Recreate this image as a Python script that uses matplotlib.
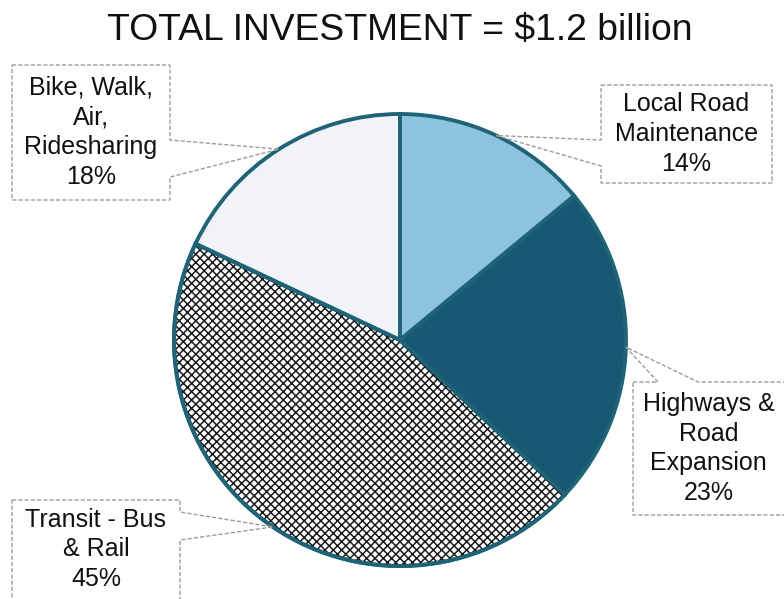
import numpy as np
import matplotlib
matplotlib.use("Agg")
import matplotlib.pyplot as plt
from matplotlib.patches import Polygon, Wedge

plt.rcParams["font.family"] = ["Liberation Sans", "DejaVu Sans"]

# ─── data ────────────────────────────────────────────────────────────────
categories = ["Local Road\nMaintenance", "Highways &\nRoad\nExpansion",
              "Transit - Bus\n& Rail", "Bike, Walk,\nAir,\nRidesharing"]
shares = [14, 23, 45, 18]
colors = ["#8ec3de", "#195873", "#ffffff", "#f1f3f7"]
title = "TOTAL INVESTMENT = $1.2 billion"

# callout boxes in pixel space (left, top, right, bottom) + side the pointer leaves from
boxes = [
    (601, 85, 772, 183, "left", (140, 166)),
    (633, 382, 790, 515, "top", (658, 698)),
    (12, 500, 180, 610, "right", (512, 540)),
    (12, 65, 170, 200, "right", (140, 177)),
]

W, H = 784, 599
CX, CY, R = 400, H - 340, 226
EDGE = "#1d6478"

fig = plt.figure(figsize=(W / 100, H / 100), dpi=100)
ax = fig.add_axes([0, 0, 1, 1])

wedges, _ = ax.pie(shares, colors=colors, startangle=90, counterclock=False,
                   center=(CX, CY), radius=R, frame=True,
                   wedgeprops=dict(edgecolor=EDGE, linewidth=2.8))
ax.set_xlim(0, W)
ax.set_ylim(0, H)
ax.set_aspect("equal")
ax.axis("off")

# hatch overlay for the transit slice
w = wedges[2]
plt.rcParams["hatch.linewidth"] = 1.1
ax.add_patch(Wedge((CX, CY), R, w.theta1, w.theta2, facecolor="none",
                   edgecolor="#1a1a1a", linewidth=0, hatch="xxxx", zorder=1.05))
ax.add_patch(Wedge((CX, CY), R, w.theta1, w.theta2, facecolor="none",
                   edgecolor=EDGE, linewidth=2.8, zorder=1.1))

# callouts
for wd, label, share, (l, t, r, b, side, span) in zip(wedges, categories, shares, boxes):
    mid = np.deg2rad((wd.theta1 + wd.theta2) / 2)
    tip = (CX + R * np.cos(mid), CY + R * np.sin(mid))
    t, b = H - t, H - b
    if side == "left":
        y1, y2 = H - span[0], H - span[1]
        pts = [(l, t), (r, t), (r, b), (l, b), (l, y2), tip, (l, y1)]
    elif side == "right":
        y1, y2 = H - span[0], H - span[1]
        pts = [(l, t), (r, t), (r, y1), tip, (r, y2), (r, b), (l, b)]
    else:  # top
        x1, x2 = span
        pts = [(l, t), (x1, t), tip, (x2, t), (r, t), (r, b), (l, b)]
    ax.add_patch(Polygon(pts, closed=True, facecolor="white", edgecolor="#9c9c9c",
                         linewidth=1.0, linestyle=(0, (3, 1.5)), zorder=3))
    ax.text((l + min(r, W)) / 2, (t + max(b, 0)) / 2, f"{label}\n{share}%",
            ha="center", va="center", fontsize=18, linespacing=1.3,
            color="#111111", zorder=4)

fig.text(0.51, 1 - 30 / H, title, ha="center", va="center", fontsize=26.8, color="#111111")

fig.savefig("out.png", dpi=100)
